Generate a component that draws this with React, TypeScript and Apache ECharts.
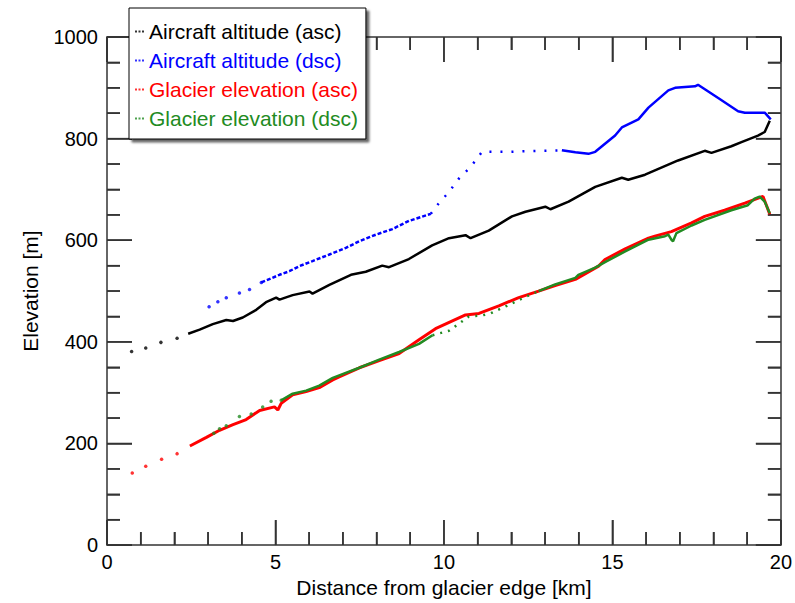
import React, { useEffect, useRef } from "react";
import * as echarts from "echarts";

const FONT = '"Liberation Sans", Arial, Helvetica, sans-serif';

const seriesNames = [
  "Aircraft altitude (asc)",
  "Aircraft altitude (dsc)",
  "Glacier elevation (asc)",
  "Glacier elevation (dsc)",
];
const seriesColors = ["#000000", "#0000ff", "#ff0000", "#228b22"];

// Tick positions
const xMajorTicks = [0, 5, 10, 15, 20];
const xMinorTicks = [1, 2, 3, 4, 6, 7, 8, 9, 11, 12, 13, 14, 16, 17, 18, 19];
const yMajorTicks = [0, 200, 400, 600, 800, 1000];
const yMinorTicks = [50, 100, 150, 250, 300, 350, 450, 500, 550, 650, 700, 750, 850, 900, 950];

// Aircraft altitude (asc) [km, m]
const aircraftAscDots = [[0.73, 381], [1.15, 388], [1.6, 399], [2.08, 407]];
const aircraftAscLine = [
  [2.41, 416], [2.75, 424], [3.14, 435], [3.54, 443], [3.74, 441], [4.03, 448], [4.43, 463],
  [4.72, 478], [5.02, 487], [5.12, 483], [5.51, 492], [6.01, 499], [6.1, 495], [6.6, 512],
  [7.24, 532], [7.68, 538], [8.17, 550], [8.37, 547], [8.96, 563], [9.65, 590], [10.15, 604],
  [10.64, 610], [10.79, 604], [11.33, 619], [12.02, 647], [12.42, 656], [13.01, 666], [13.16, 661],
  [13.7, 676], [14.49, 705], [15.28, 723], [15.47, 719], [15.97, 729], [16.95, 757], [17.74, 776],
  [17.94, 772], [18.53, 785], [18.83, 793], [19.32, 806], [19.52, 813], [19.67, 835],
];

// Aircraft altitude (dsc)
const aircraftDscDots = [[3.03, 469], [3.29, 479], [3.54, 487], [3.93, 496], [4.23, 503], [4.58, 517]];
const aircraftDscDashed = [
  [4.58, 517], [4.87, 525], [5.12, 532], [5.41, 539], [5.71, 549], [6.1, 559], [6.6, 572],
  [7.09, 585], [7.49, 598], [7.98, 611], [8.47, 622], [8.96, 638], [9.61, 652],
];
const aircraftDscDotted = [
  [9.61, 652], [9.85, 673], [10.15, 695], [10.44, 721], [10.79, 744], [11.13, 774],
  [11.92, 774], [12.81, 776], [13.5, 777],
];
const aircraftDscLine = [
  [13.5, 777], [13.9, 773], [14.29, 770], [14.49, 774], [15.08, 806], [15.28, 822], [15.77, 838],
  [16.07, 861], [16.66, 895], [16.86, 900], [17.45, 903], [17.54, 906], [18.14, 880], [18.73, 854],
  [18.93, 851], [19.52, 851], [19.7, 838],
];

// Glacier elevation (asc)
const glacierAscDots = [[0.75, 142], [1.15, 155], [1.62, 169], [2.08, 180]];
const glacierAscLine = [
  [2.46, 195], [2.95, 212], [3.34, 226], [3.74, 237], [4.13, 247], [4.53, 265], [4.97, 272],
  [5.07, 266], [5.17, 279], [5.51, 296], [5.91, 302], [6.3, 310], [6.7, 325], [6.89, 331],
  [7.49, 349], [8.08, 363], [8.67, 377], [9.26, 404], [9.75, 426], [10.64, 453], [11.04, 456],
  [11.63, 471], [12.22, 487], [12.81, 500], [13.3, 511], [13.9, 523], [14.59, 549], [14.78, 562],
  [15.38, 583], [16.07, 604], [16.26, 608], [16.75, 617], [17.35, 634], [17.74, 647], [18.33, 659],
  [18.93, 673], [19.37, 684], [19.47, 686], [19.57, 669], [19.67, 651],
];

// Glacier elevation (dsc)
const glacierDscDots = [
  [3.17, 220], [3.34, 229], [3.54, 235], [3.93, 253], [4.28, 258], [4.62, 272], [4.87, 283], [5.17, 285],
];
const glacierDscLineA = [
  [5.17, 285], [5.51, 298], [5.91, 304], [6.3, 314], [6.7, 329], [7.49, 349], [8.08, 365],
  [8.67, 380], [9.26, 396], [9.66, 413],
];
const glacierDscDotted = [
  [9.66, 413], [10.15, 422], [10.39, 433], [10.74, 450], [11.13, 452], [11.38, 456], [11.87, 471],
  [12.37, 487], [12.81, 500],
];
const glacierDscLineB = [
  [12.81, 500], [13.3, 513], [13.9, 526], [13.99, 532], [14.49, 546], [14.78, 557], [15.38, 578],
  [16.07, 601], [16.56, 608], [16.66, 611], [16.75, 601], [16.8, 598], [16.9, 614], [17.35, 629],
  [17.74, 640], [18.53, 659], [19.02, 669], [19.22, 682], [19.37, 686], [19.52, 676], [19.67, 653],
];

const xRange = [0, 20];
const yRange = [0, 1000];

const TICK_COLOR = "#333333";
const MAJOR_LEN = 25;
const MINOR_LEN = 13;

function lineS(idx: number, data: number[][], dash: any, width = 2.5) {
  return {
    type: "line",
    name: seriesNames[idx],
    data,
    symbol: "none",
    showSymbol: false,
    color: seriesColors[idx],
    lineStyle: { color: seriesColors[idx], width, type: dash },
    itemStyle: { color: seriesColors[idx] },
    z: 3,
  };
}
function dotS(idx: number, data: number[][]) {
  return {
    type: "scatter",
    name: seriesNames[idx],
    data,
    symbol: "circle",
    symbolSize: 3.5,
    color: seriesColors[idx],
    itemStyle: { color: seriesColors[idx] },
    z: 3,
  };
}

function axisBase(split: number) {
  return {
    axisLine: { show: true, onZero: false, lineStyle: { color: TICK_COLOR, width: 1.5 } },
    axisTick: { show: true, inside: true, length: MAJOR_LEN, lineStyle: { color: TICK_COLOR, width: 1.5 } },
    minorTick: { show: true, splitNumber: split, length: MINOR_LEN, lineStyle: { color: TICK_COLOR, width: 1.5 } },
    splitLine: { show: false },
  };
}

export default function App() {
  const ref = useRef<HTMLDivElement>(null);
  useEffect(() => {
    if (!ref.current) return;
    const chart = echarts.init(ref.current, undefined, { renderer: "svg" });
    const labelStyle = { fontSize: 20, color: "#000", fontFamily: FONT, formatter: (v: number) => String(v) };
    chart.setOption({
      animation: false,
      grid: { left: 107, right: 12, top: 37, bottom: 53 },
      legend: {
        orient: "vertical",
        left: 129,
        top: 8,
        padding: [13, 8, 10, 6],
        itemGap: 8,
        itemWidth: 9,
        itemHeight: 3,
        icon: "path://M0,0h2v2h-2zM3.5,0h2v2h-2zM7,0h2v2h-2z",
        backgroundColor: "#fff",
        borderColor: "#000",
        borderWidth: 1,
        shadowColor: "rgba(0,0,0,0.6)",
        shadowBlur: 2,
        shadowOffsetX: 3,
        shadowOffsetY: 3,
        selectedMode: false,
        textStyle: { fontSize: 21, fontFamily: FONT },
        data: seriesNames.map((n, i) => ({
          name: n,
          itemStyle: { color: seriesColors[i] },
          textStyle: { color: seriesColors[i], fontSize: 21, fontFamily: FONT },
        })),
      },
      xAxis: [
        {
          type: "value", min: xRange[0], max: xRange[1], interval: 5, position: "bottom",
          ...axisBase(5),
          axisLabel: { ...labelStyle, margin: 7 },
          name: "Distance from glacier edge [km]",
          nameLocation: "middle",
          nameGap: 27,
          nameTextStyle: { fontSize: 21, color: "#000", fontFamily: FONT },
        },
        {
          type: "value", min: xRange[0], max: xRange[1], interval: 5, position: "top",
          ...axisBase(5),
          axisLabel: { show: false },
        },
      ],
      yAxis: [
        {
          type: "value", min: yRange[0], max: yRange[1], interval: 200, position: "left",
          ...axisBase(4),
          axisLabel: { ...labelStyle, margin: 9 },
          name: "Elevation [m]",
          nameLocation: "middle",
          nameGap: 66,
          nameTextStyle: { fontSize: 21, color: "#000", fontFamily: FONT },
        },
        {
          type: "value", min: yRange[0], max: yRange[1], interval: 200, position: "right",
          ...axisBase(4),
          axisLabel: { show: false },
        },
      ],
      series: [
        dotS(0, aircraftAscDots),
        lineS(0, aircraftAscLine, "solid"),
        dotS(1, aircraftDscDots),
        lineS(1, aircraftDscDashed, [4, 2]),
        lineS(1, aircraftDscDotted, [2, 9]),
        lineS(1, aircraftDscLine, "solid"),
        dotS(2, glacierAscDots),
        lineS(2, glacierAscLine, "solid", 3),
        dotS(3, glacierDscDots),
        lineS(3, glacierDscLineA, "solid", 2.5),
        lineS(3, glacierDscDotted, [2, 6], 2.5),
        lineS(3, glacierDscLineB, "solid", 2.5),
      ],
    });

    // Tick marks as filled thin rects, placed through the chart's own scales
    const px = (x: number, y: number) => chart.convertToPixel({ gridIndex: 0 }, [x, y]) as number[];
    const rects: any[] = [];
    const addX = (vals: number[], len: number) => {
      vals.forEach((v) => {
        const b = px(v, yRange[0]);
        const t = px(v, yRange[1]);
        rects.push({ type: "rect", silent: true, z: 2, shape: { x: b[0] - 0.75, y: b[1] - len, width: 1.5, height: len }, style: { fill: TICK_COLOR } });
        rects.push({ type: "rect", silent: true, z: 2, shape: { x: t[0] - 0.75, y: t[1], width: 1.5, height: len }, style: { fill: TICK_COLOR } });
      });
    };
    const addY = (vals: number[], len: number) => {
      vals.forEach((v) => {
        const l = px(xRange[0], v);
        const r = px(xRange[1], v);
        rects.push({ type: "rect", silent: true, z: 2, shape: { x: l[0], y: l[1] - 0.75, width: len, height: 1.5 }, style: { fill: TICK_COLOR } });
        rects.push({ type: "rect", silent: true, z: 2, shape: { x: r[0] - len, y: r[1] - 0.75, width: len, height: 1.5 }, style: { fill: TICK_COLOR } });
      });
    };
    addX(xMajorTicks, MAJOR_LEN);
    addX(xMinorTicks, MINOR_LEN);
    addY(yMajorTicks, MAJOR_LEN);
    addY(yMinorTicks, MINOR_LEN);
    chart.setOption({ graphic: rects });

    return () => chart.dispose();
  }, []);
  return (
    <div
      ref={ref}
      style={{ position: "fixed", left: 0, top: 0, width: 795, height: 603, background: "#fff" }}
    />
  );
}
